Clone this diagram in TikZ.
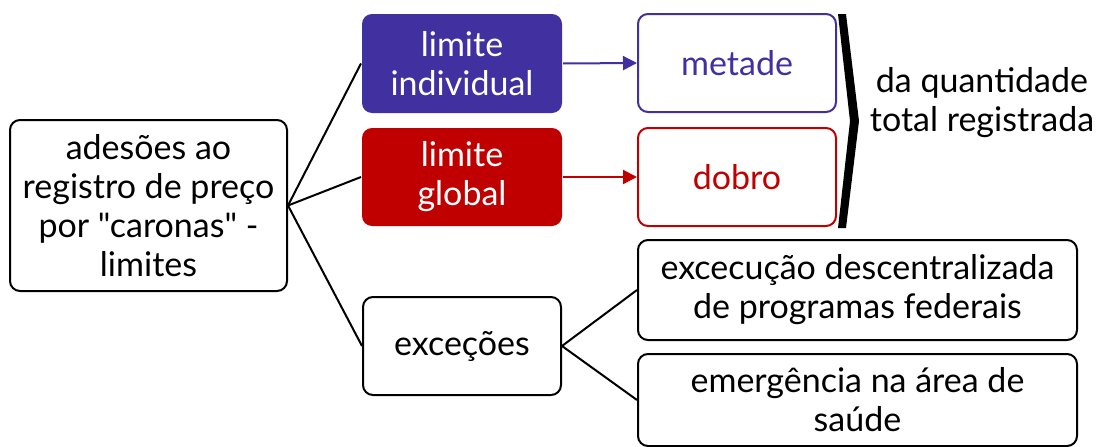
\documentclass[tikz,border=0pt]{standalone}
\usepackage{fontspec}
\setmainfont{Lato}[Ligatures=TeXOff]
\usetikzlibrary{arrows.meta}
\definecolor{cblue}{RGB}{64,48,160}
\definecolor{cred}{RGB}{192,0,0}
\begin{document}
\begin{tikzpicture}[x=1pt,y=-1pt,
  txt/.style={font=\fontsize{34}{39}\selectfont, align=center},
  box/.style={txt, draw=black, line width=2pt, rounded corners=10pt, fill=white, inner sep=0pt},
  conn/.style={line width=2pt, black},
  arr/.style={line width=2pt, -{Triangle[length=14pt,width=14pt]}}]
\useasboundingbox (0,0) rectangle (1098,447);
\node[box, minimum width=277pt, minimum height=171pt] (root) at (148.5,205.5) {adesões ao\\registro de preço\\por "caronas" -\\limites};
\node[box, draw=none, fill=cblue, text=white, minimum width=200pt, minimum height=99pt] (ind) at (462,63.5) {limite\\individual};
\node[box, draw=none, fill=cred, text=white, minimum width=200pt, minimum height=98pt] (glo) at (462,177) {limite\\global};
\node[box, draw=cblue, text=cblue, minimum width=198pt, minimum height=98pt] (met) at (737,63) {metade};
\node[box, draw=cred, text=cred, minimum width=198pt, minimum height=98pt] (dob) at (737,177) {dobro};
\node[box, minimum width=198pt, minimum height=98pt] (exc) at (462,346) {exceções};
\node[box, minimum width=439pt, minimum height=100pt] (e1) at (857.5,290) {excecução descentralizada\\de programas federais};
\node[box, minimum width=439pt, minimum height=92pt] (e2) at (857.5,400) {emergência na área de\\saúde};
\node[txt] (qt) at (982,103) {da quantidade\\total registrada};
\fill[black] (838,14) -- (846,14) -- (859,121) -- (846,228) -- (838,228) -- (850,121) -- cycle;
\draw[conn] (root.east) -- (ind.west);
\draw[conn] (root.east) -- (glo.west);
\draw[conn] (root.east) -- (exc.west);
\draw[conn] (exc.east) -- (e1.west);
\draw[conn] (exc.east) -- (e2.west);
\draw[arr, cblue] (ind.east) -- (met.west);
\draw[arr, cred] (glo.east) -- (dob.west);
\end{tikzpicture}
\end{document}
